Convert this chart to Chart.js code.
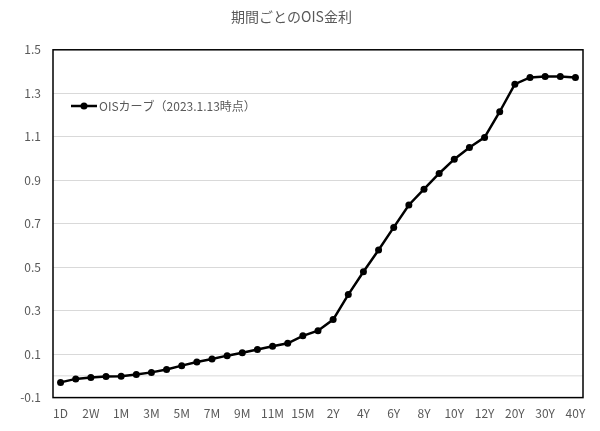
<!DOCTYPE html>
<html>
<head>
<meta charset="utf-8">
<script src="https://cdn.jsdelivr.net/npm/chart.js@4.4.0/dist/chart.umd.min.js"></script>
<style>
 body { margin: 0; background: #fff; }
 #wrap { width: 600px; height: 431px; }
</style>
</head>
<body>
<div id="wrap"><canvas id="ois_curve"></canvas></div>
<script>
// tenors and OIS rates
var tenors = ['1D','1W','2W','3W','1M','2M','3M','4M','5M','6M','7M','8M','9M','10M','11M','12M',
 '15M','18M','2Y','3Y','4Y','5Y','6Y','7Y','8Y','9Y','10Y','11Y','12Y','15Y','20Y','25Y','30Y','35Y','40Y'];
var oisRates = [-0.030,-0.014,-0.008,-0.003,-0.002,0.006,0.016,0.029,0.047,0.064,0.078,0.093,0.106,0.121,0.136,0.150,
 0.184,0.208,0.259,0.374,0.479,0.579,0.683,0.786,0.859,0.931,0.997,1.051,1.097,1.215,1.342,1.373,1.377,1.377,1.373];
var yTicks = [-0.1,0.1,0.3,0.5,0.7,0.9,1.1,1.3,1.5];
var seriesName = 'OISカーブ（2023.1.13時点）';
var titleText = '期間ごとのOIS金利';

var jp = "'Noto Sans CJK JP', 'Noto Sans', sans-serif";
var grey = '#595959';

// plot box, zero line and legend inside the plot area
var boxPlugin = {
 id: 'box',
 beforeDatasetsDraw: function(chart) {
  var ctx = chart.ctx, a = chart.chartArea;
  var y0 = chart.scales.y.getPixelForValue(0);
  ctx.save();
  ctx.strokeStyle = '#d9d9d9';
  ctx.lineWidth = 1;
  ctx.beginPath();
  ctx.moveTo(a.left, y0); ctx.lineTo(a.right, y0);
  ctx.stroke();
  ctx.strokeStyle = '#000';
  ctx.lineWidth = 1.5;
  ctx.strokeRect(a.left, a.top, a.right - a.left, a.bottom - a.top);
  ctx.restore();
 },
 afterDraw: function(chart) {
  var ctx = chart.ctx, a = chart.chartArea;
  var x = a.left + 18, y = 106;
  ctx.save();
  ctx.strokeStyle = '#000';
  ctx.lineWidth = 2.5;
  ctx.beginPath();
  ctx.moveTo(x, y); ctx.lineTo(x + 26, y);
  ctx.stroke();
  ctx.fillStyle = '#000';
  ctx.beginPath();
  ctx.arc(x + 13, y, 3.5, 0, Math.PI * 2);
  ctx.fill();
  ctx.fillStyle = grey;
  ctx.font = '12px ' + jp;
  ctx.textBaseline = 'middle';
  ctx.fillText(seriesName, x + 28, y);
  ctx.restore();
 }
};

var config = {
 type: 'line',
 data: {
  labels: tenors,
  datasets: [{
   label: seriesName,
   data: oisRates,
   borderColor: '#000',
   backgroundColor: '#000',
   borderWidth: 2.5,
   pointRadius: 3.5,
   pointBackgroundColor: '#000',
   pointBorderWidth: 0,
   tension: 0
  }]
 },
 options: {
  responsive: true,
  maintainAspectRatio: false,
  animation: false,
  layout: { padding: { left: 0, right: 17, top: 0, bottom: 1 } },
  plugins: {
   legend: { display: false },
   tooltip: { enabled: false },
   title: {
    display: true,
    text: titleText,
    color: grey,
    font: { family: jp, size: 14, weight: 'normal' },
    padding: { top: 8, bottom: 25 }
   }
  },
  scales: {
   x: {
    offset: true,
    grid: { display: false, drawTicks: false },
    border: { display: false },
    ticks: {
     autoSkip: false,
     maxRotation: 0,
     padding: 9,
     color: grey,
     font: { family: jp, size: 12 },
     callback: function(v, i) { return i % 2 === 0 ? tenors[i] : ''; }
    }
   },
   y: {
    min: -0.1,
    max: 1.5,
    afterBuildTicks: function(scale) {
     scale.ticks = yTicks.map(function(v) { return { value: v }; });
    },
    afterFit: function(scale) { scale.width = 53; },
    grid: { color: '#d9d9d9', drawTicks: false },
    border: { display: false },
    ticks: {
     padding: 12,
     color: grey,
     font: { family: jp, size: 12 },
     callback: function(v) { return v.toFixed(1); }
    }
   }
  }
 },
 plugins: [boxPlugin]
};

window.onload = function() {
 var ctx = document.getElementById('ois_curve').getContext('2d');
 window.oisChart = new Chart(ctx, config);
};
</script>
</body>
</html>
